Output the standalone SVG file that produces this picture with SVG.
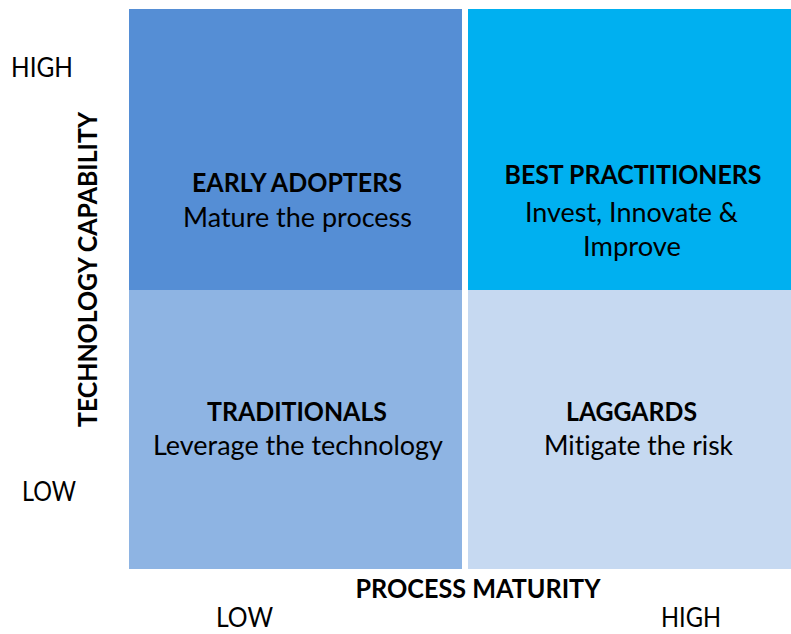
<svg xmlns="http://www.w3.org/2000/svg" width="791" height="634" viewBox="0 0 791 634">
<style>
text{font-family:Lato,"Liberation Sans",sans-serif;fill:#000;font-size:26px;font-variant-ligatures:none}
.b{font-weight:bold}
.m{text-anchor:middle}
</style>
<rect width="791" height="634" fill="#fff"/>
<g id="early-adopters">
<rect x="129" y="9" width="333" height="281" fill="#558ED5"/>
<text class="b m" x="297" y="192" textLength="210" lengthAdjust="spacingAndGlyphs">EARLY ADOPTERS</text>
<text class="m" x="297.5" y="226.5" textLength="229" lengthAdjust="spacingAndGlyphs">Mature the process</text>
</g>
<g id="best-practitioners">
<rect x="468" y="9" width="323" height="281" fill="#00B0F0"/>
<text class="b m" x="633" y="184" textLength="257" lengthAdjust="spacingAndGlyphs">BEST PRACTITIONERS</text>
<text class="m" x="631.5" y="221.5" textLength="213" lengthAdjust="spacingAndGlyphs">Invest, Innovate &amp;</text>
<text class="m" x="632" y="256" textLength="98" lengthAdjust="spacingAndGlyphs">Improve</text>
</g>
<g id="traditionals">
<rect x="129" y="290" width="333" height="279" fill="#8EB4E3"/>
<text class="b m" x="297" y="420.5" textLength="180" lengthAdjust="spacingAndGlyphs">TRADITIONALS</text>
<text class="m" x="298" y="455" textLength="290" lengthAdjust="spacingAndGlyphs">Leverage the technology</text>
</g>
<g id="laggards">
<rect x="468" y="290" width="323" height="279" fill="#C6D9F1"/>
<text class="b m" x="631.5" y="420.5" textLength="131" lengthAdjust="spacingAndGlyphs">LAGGARDS</text>
<text class="m" x="638.5" y="455" textLength="189" lengthAdjust="spacingAndGlyphs">Mitigate the risk</text>
</g>
<g id="axes">
<text x="42" y="77" class="m" textLength="62" lengthAdjust="spacingAndGlyphs">HIGH</text>
<text x="49" y="501" class="m" textLength="54" lengthAdjust="spacingAndGlyphs">LOW</text>
<text class="b m" transform="translate(97,269.5) rotate(-90)" x="0" y="0" textLength="315" lengthAdjust="spacingAndGlyphs">TECHNOLOGY CAPABILITY</text>
<text class="b m" x="478" y="598" textLength="245" lengthAdjust="spacingAndGlyphs">PROCESS MATURITY</text>
<text class="m" x="244.5" y="627" textLength="57" lengthAdjust="spacingAndGlyphs">LOW</text>
<text class="m" x="691" y="627" textLength="60" lengthAdjust="spacingAndGlyphs">HIGH</text>
</g>
<g id="connectors"></g>
</svg>
